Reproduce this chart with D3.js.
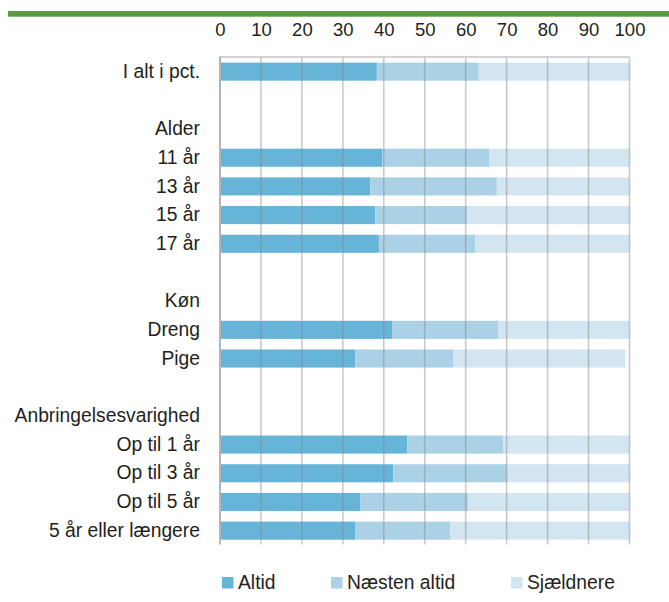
<!DOCTYPE html>
<html>
<head>
<meta charset="utf-8">
<script src="https://cdn.jsdelivr.net/npm/d3@7"></script>
<style>
  body { margin: 0; background: #fff; }
  text { font-family: "Liberation Sans", Arial, sans-serif; fill: #231f20; }
</style>
</head>
<body>
<svg id="chart" width="669" height="602"></svg>
<script>
// rows top to bottom, "" = spacer row, headers have no bar
var rowLabels = ["I alt i pct.", "", "Alder", "11 år", "13 år", "15 år", "17 år", "",
    "Køn", "Dreng", "Pige", "", "Anbringelsesvarighed",
    "Op til 1 år", "Op til 3 år", "Op til 5 år", "5 år eller længere"];
var barRows = ["I alt i pct.", "11 år", "13 år", "15 år", "17 år", "Dreng", "Pige",
    "Op til 1 år", "Op til 3 år", "Op til 5 år", "5 år eller længere"];
var altid = [38.3, 39.7, 36.7, 37.9, 38.8, 42.0, 33.0, 45.7, 42.3, 34.2, 33.1];
var naestenAltid = [24.9, 26.0, 30.9, 22.4, 23.5, 25.9, 23.9, 23.4, 27.8, 26.4, 23.1];
var sjaeldnere = [36.8, 34.3, 32.4, 39.7, 37.7, 32.1, 42.1, 30.9, 29.9, 39.4, 43.8];
var seriesNames = ["Altid", "Næsten altid", "Sjældnere"];
var seriesColors = ["#66b4d7", "#aad1e6", "#d2e5f0"];
var ticks = [0, 10, 20, 30, 40, 50, 60, 70, 80, 90, 100];

var svg = d3.select("#chart");

var x = d3.scaleLinear().domain([0, 100]).range([220, 629.5]);
var y = d3.scaleBand().domain(rowLabels.map(function (d, i) { return i; }))
    .range([57.3, 545]).paddingInner(0.37).paddingOuter(0.185);

// green rule at top
svg.append("rect").attr("x", 8).attr("y", 11).attr("width", 661).attr("height", 5.7)
    .attr("fill", "#5b9a40");

var data = barRows.map(function (r, i) {
    return { row: rowLabels.indexOf(r), altid: altid[i], naesten: naestenAltid[i], sjaeld: sjaeldnere[i] };
});
var stack = d3.stack().keys(["altid", "naesten", "sjaeld"])(data);

svg.append("g").selectAll("g")
    .data(stack)
    .enter().append("g")
    .attr("fill", function (d, i) { return seriesColors[i]; })
    .selectAll("rect")
    .data(function (d) { return d; })
    .enter().append("rect")
    .attr("x", function (d) { return x(d[0]); })
    .attr("width", function (d) { return x(d[1]) - x(d[0]); })
    .attr("y", function (d) { return y(d.data.row); })
    .attr("height", y.bandwidth());

// grid lines drawn over bars
svg.append("g").selectAll("line")
    .data(ticks.slice(1))
    .enter().append("line")
    .attr("x1", function (d) { return x(d); })
    .attr("x2", function (d) { return x(d); })
    .attr("y1", 57).attr("y2", 544.5)
    .attr("stroke", "#8a8a8a").attr("stroke-opacity", 0.45).attr("stroke-width", 1.6);

svg.append("line").attr("x1", x(0)).attr("x2", x(100)).attr("y1", 57).attr("y2", 57)
    .attr("stroke", "#c4c4c8").attr("stroke-width", 1.5);
svg.append("line").attr("x1", x(0)).attr("x2", x(0)).attr("y1", 56.5).attr("y2", 544.5)
    .attr("stroke", "#b4b4bb").attr("stroke-width", 2);

// top axis labels
var xAxis = d3.axisTop(x).tickValues(ticks).tickSize(0).tickPadding(0);
var gx = svg.append("g").attr("transform", "translate(0,36)").call(xAxis);
gx.select(".domain").remove();
gx.selectAll("text").attr("font-size", "18.5px").attr("font-family", null).attr("fill", "#231f20");

// row labels
var yAxis = d3.axisLeft(y).tickFormat(function (i) { return rowLabels[i]; }).tickSize(0).tickPadding(0);
var gy = svg.append("g").attr("transform", "translate(200,0)").call(yAxis);
gy.select(".domain").remove();
gy.selectAll("text").attr("font-size", "19.3px").attr("font-family", null).attr("fill", "#231f20");

// legend
var legendX = [222, 331, 511];
var lg = svg.append("g").selectAll("g")
    .data(seriesNames)
    .enter().append("g")
    .attr("transform", function (d, i) { return "translate(" + legendX[i] + ",577)"; });
lg.append("rect").attr("width", 11.5).attr("height", 11.5)
    .attr("fill", function (d, i) { return seriesColors[i]; });
lg.append("text").attr("x", 16).attr("y", 12).attr("font-size", "19.3px")
    .text(function (d) { return d; });
</script>
</body>
</html>
